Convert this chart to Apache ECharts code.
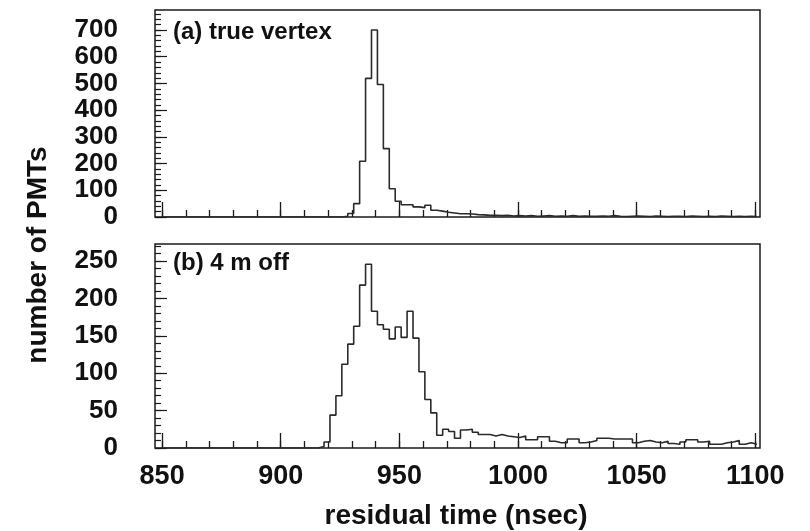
<!DOCTYPE html>
<html>
<head>
<meta charset="utf-8">
<script src="https://cdn.jsdelivr.net/npm/echarts@6/dist/echarts.min.js"></script>
<style>
html,body{margin:0;padding:0;background:#fff;}
#chart{width:810px;height:531px;}
</style>
</head>
<body>
<div id="chart"></div>
<script>
// Histogram binning (residual time, nsec)
const BIN_START = 850.75;
const BIN_WIDTH = 2.5;

// (a) true vertex: counts per bin (100 bins)
const countsTrueVertex = [
  0,0,0,0,0,0,0,0,0,0,
  0,0,0,0,0,0,0,0,0,0,
  0,0,0,0,0,0,0,0,0,0,
  3,13,50,209,519,700,496,256,106,59,
  46,46,38,35,44,25,22,18,15,12,
  12,11,9,8,6,6,5,6,4,5,
  4,5,3,4,5,3,4,3,5,3,
  4,3,3,4,3,5,3,2,3,4,
  3,2,4,3,2,3,3,2,4,3,
  2,3,2,4,3,2,3,2,3,2
];

// (b) 4 m off: counts per bin (100 bins)
const countsFourMOff = [
  0,0,0,0,0,0,0,0,0,0,
  0,0,0,0,0,0,0,0,0,0,
  0,0,0,0,0,0,2,8,44,70,
  112,139,163,218,246,183,165,159,146,162,
  148,183,147,102,65,47,17,25,22,13,
  24,25,21,18,18,16,18,16,15,14,
  16,11,11,15,15,9,7,7,12,12,
  7,8,10,13,13,12,12,12,12,7,
  9,10,8,7,9,6,5,8,11,11,
  8,9,5,5,7,8,10,5,7,5
];

const xTickLabels = [850, 900, 950, 1000, 1050, 1100];
const xMinorTicks = [850,860,870,880,890,900,910,920,930,940,950,960,970,980,990,1000,1010,1020,1030,1040,1050,1060,1070,1080,1090,1100];
const yTicksTop = [0,100,200,300,400,500,600,700];
const yMinorTop = [0,20,40,60,80,100,120,140,160,180,200,220,240,260,280,300,320,340,360,380,400,420,440,460,480,500,520,540,560,580,600,620,640,660,680,700,720,740,760];
const yTicksBottom = [0,50,100,150,200,250];
const yMinorBottom = [0,10,20,30,40,50,60,70,80,90,100,110,120,130,140,150,160,170,180,190,200,210,220,230,240,250,260,270];

const panelLabels = ['(a) true vertex', '(b) 4 m off'];
const xTitle = 'residual time (nsec)';
const yTitle = 'number of PMTs';

function histPoints(counts) {
  const pts = [];
  for (let i = 0; i < counts.length; i++) {
    pts.push([BIN_START + i * BIN_WIDTH, counts[i]]);
  }
  pts.push([BIN_START + counts.length * BIN_WIDTH, counts[counts.length - 1]]);
  return pts;
}

const FONT = '"Liberation Sans", Arial, Helvetica, sans-serif';
const INK = '#1a1a1a';
const X_MIN = 847, X_MAX = 1102;

function xAxisDef(grid, ticks, len, labels) {
  return {
    gridIndex: grid, type: 'value', min: X_MIN, max: X_MAX, position: 'bottom', offset: 0,
    axisLine: { show: false }, splitLine: { show: false },
    axisTick: { show: true, inside: true, length: len, customValues: ticks, lineStyle: { color: INK, width: 1.3 } },
    axisLabel: labels ? {
      show: true, customValues: labels, margin: 15, formatter: v => String(v),
      fontFamily: FONT, fontWeight: 'bold', fontSize: 27, color: '#111'
    } : { show: false }
  };
}
function yAxisDef(grid, max, ticks, len, labels) {
  return {
    gridIndex: grid, type: 'value', min: 0, max: max, position: 'left', offset: 0,
    axisLine: { show: false }, splitLine: { show: false },
    axisTick: { show: true, inside: true, length: len, customValues: ticks, lineStyle: { color: INK, width: 1.2 } },
    axisLabel: labels ? {
      show: true, customValues: labels, margin: 37, formatter: v => String(v),
      fontFamily: FONT, fontWeight: 'bold', fontSize: 26, color: '#111'
    } : { show: false }
  };
}

const chart = echarts.init(document.getElementById('chart'), null, { renderer: 'canvas' });
chart.setOption({
  animation: false,
  backgroundColor: '#fff',
  grid: [
    { left: 155, top: 10, width: 605, height: 207, show: true, borderColor: INK, borderWidth: 1.5 },
    { left: 155, top: 244, width: 605, height: 204, show: true, borderColor: INK, borderWidth: 1.5 }
  ],
  xAxis: [
    xAxisDef(0, xMinorTicks, 7, null),
    xAxisDef(0, xTickLabels, 15, null),
    xAxisDef(1, xMinorTicks, 7, xTickLabels),
    xAxisDef(1, xTickLabels, 15, null)
  ],
  yAxis: [
    yAxisDef(0, 775, yTicksTop, 12, yTicksTop),
    yAxisDef(0, 775, yMinorTop, 6, null),
    yAxisDef(1, 273, yTicksBottom, 12, yTicksBottom),
    yAxisDef(1, 273, yMinorBottom, 6, null)
  ],
  series: [
    { type: 'line', xAxisIndex: 0, yAxisIndex: 0, step: 'end', symbol: 'none',
      data: histPoints(countsTrueVertex), lineStyle: { color: '#2a2a2a', width: 1.6 } },
    { type: 'line', xAxisIndex: 2, yAxisIndex: 2, step: 'end', symbol: 'none',
      data: histPoints(countsFourMOff), lineStyle: { color: '#2a2a2a', width: 1.6 } }
  ],
  graphic: [
    { type: 'text', left: 173, top: 20, style: { text: panelLabels[0], font: 'bold 24px ' + FONT, fill: '#111' } },
    { type: 'text', left: 173, top: 251, style: { text: panelLabels[1], font: 'bold 24px ' + FONT, fill: '#111' } },
    { type: 'text', x: 38, y: 255, rotation: Math.PI / 2,
      style: { text: yTitle, font: 'bold 28px ' + FONT, fill: '#111', align: 'center', verticalAlign: 'middle' } },
    { type: 'text', x: 456, y: 516,
      style: { text: xTitle, font: 'bold 28px ' + FONT, fill: '#111', align: 'center', verticalAlign: 'middle' } }
  ]
});
</script>
</body>
</html>
